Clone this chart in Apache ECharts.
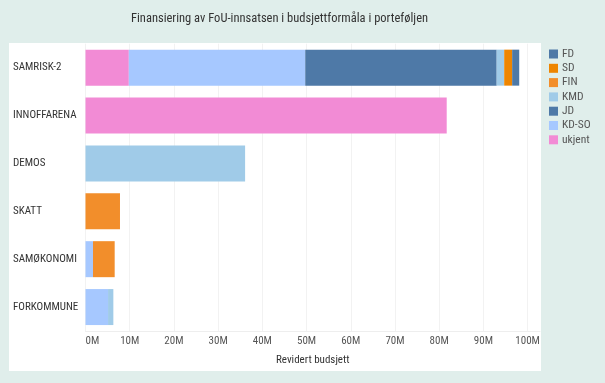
<!DOCTYPE html>
<html><head><meta charset="utf-8">
<script src="https://cdn.jsdelivr.net/npm/echarts@6/dist/echarts.min.js"></script>
<style>html,body{margin:0;padding:0;background:#e0eeeb}#c{width:605px;height:383px}</style>
</head><body><div id="c"></div>
<script>
const categories = ['SAMRISK-2','INNOFFARENA','DEMOS','SKATT','SAMØKONOMI','FORKOMMUNE'];
const legendOrder = ['FD','SD','FIN','KMD','JD','KD-SO','ukjent'];
const xTicks = [0,10,20,30,40,50,60,70,80,90,100];
// values in millions (M)
const ukjent = [9.8, 81.7, 0, 0, 0, 0];
const kdso   = [39.9, 0, 0, 0, 1.7, 5.1];
const jd     = [43.3, 0, 0, 0, 0, 0];
const kmd    = [1.7, 0, 36.1, 0, 0, 1.2];
const fin    = [0, 0, 0, 7.8, 4.9, 0];
const sd     = [1.8, 0, 0, 0, 0, 0];
const fd     = [1.6, 0, 0, 0, 0, 0];

const colors = {FD:'#4e79a7', SD:'#ee8500', FIN:'#f28e2b', KMD:'#a0cbe8', JD:'#4e79a7', 'KD-SO':'#a6c8ff', ukjent:'#f28bd5'};
const stack = [['ukjent',ukjent],['KD-SO',kdso],['JD',jd],['KMD',kmd],['FIN',fin],['SD',sd],['FD',fd]];
const FONT = 'Roboto Condensed';
const chart = echarts.init(document.getElementById('c'));
chart.setOption({
  backgroundColor:'#e0eeeb',
  animation:false,
  textStyle:{fontFamily:FONT},
  graphic:[{type:'rect',shape:{x:9,y:43,width:532,height:328},style:{fill:'#ffffff'},z:-10,silent:true}],
  title:{text:'Finansiering av FoU-innsatsen i budsjettformåla i porteføljen',left:274.5,textAlign:'center',top:7,
    textStyle:{fontFamily:FONT,fontSize:12.5,fontWeight:'normal',color:'#333'}},
  legend:{data:legendOrder,orient:'vertical',left:549,top:48,padding:0,itemWidth:9,itemHeight:9,itemGap:2.3,icon:'rect',
    textStyle:{fontFamily:FONT,fontSize:11.5,lineHeight:12,color:'#555',padding:[0,0,0,-1]}},
  grid:{left:85.5,right:65,top:43.7,bottom:52,containLabel:false},
  xAxis:{type:'value',min:0,max:102.8,interval:10,
    name:'Revidert budsjett',nameLocation:'middle',nameGap:24,
    nameTextStyle:{fontFamily:FONT,fontSize:11,color:'#333'},
    axisLine:{show:true,lineStyle:{color:'#eeeeee'}},axisTick:{show:false},
    axisLabel:{margin:5,fontFamily:FONT,fontSize:11,color:'#555',alignMinLabel:'left',
      formatter:v=>xTicks.indexOf(Math.round(v*10)/10)>=0?v+'M':''},
    splitLine:{show:true,showMaxLine:false,lineStyle:{color:'#f2f2f2'}}},
  yAxis:{type:'category',data:categories,inverse:true,
    axisLine:{show:false},axisTick:{show:false},splitLine:{show:false},
    axisLabel:{align:'left',margin:72.5,fontFamily:FONT,fontSize:11,color:'#333'}},
  series:stack.map(([n,d])=>({name:n,type:'bar',stack:'s',data:d,barWidth:36,
    itemStyle:{color:colors[n]}}))
});
</script></body></html>
